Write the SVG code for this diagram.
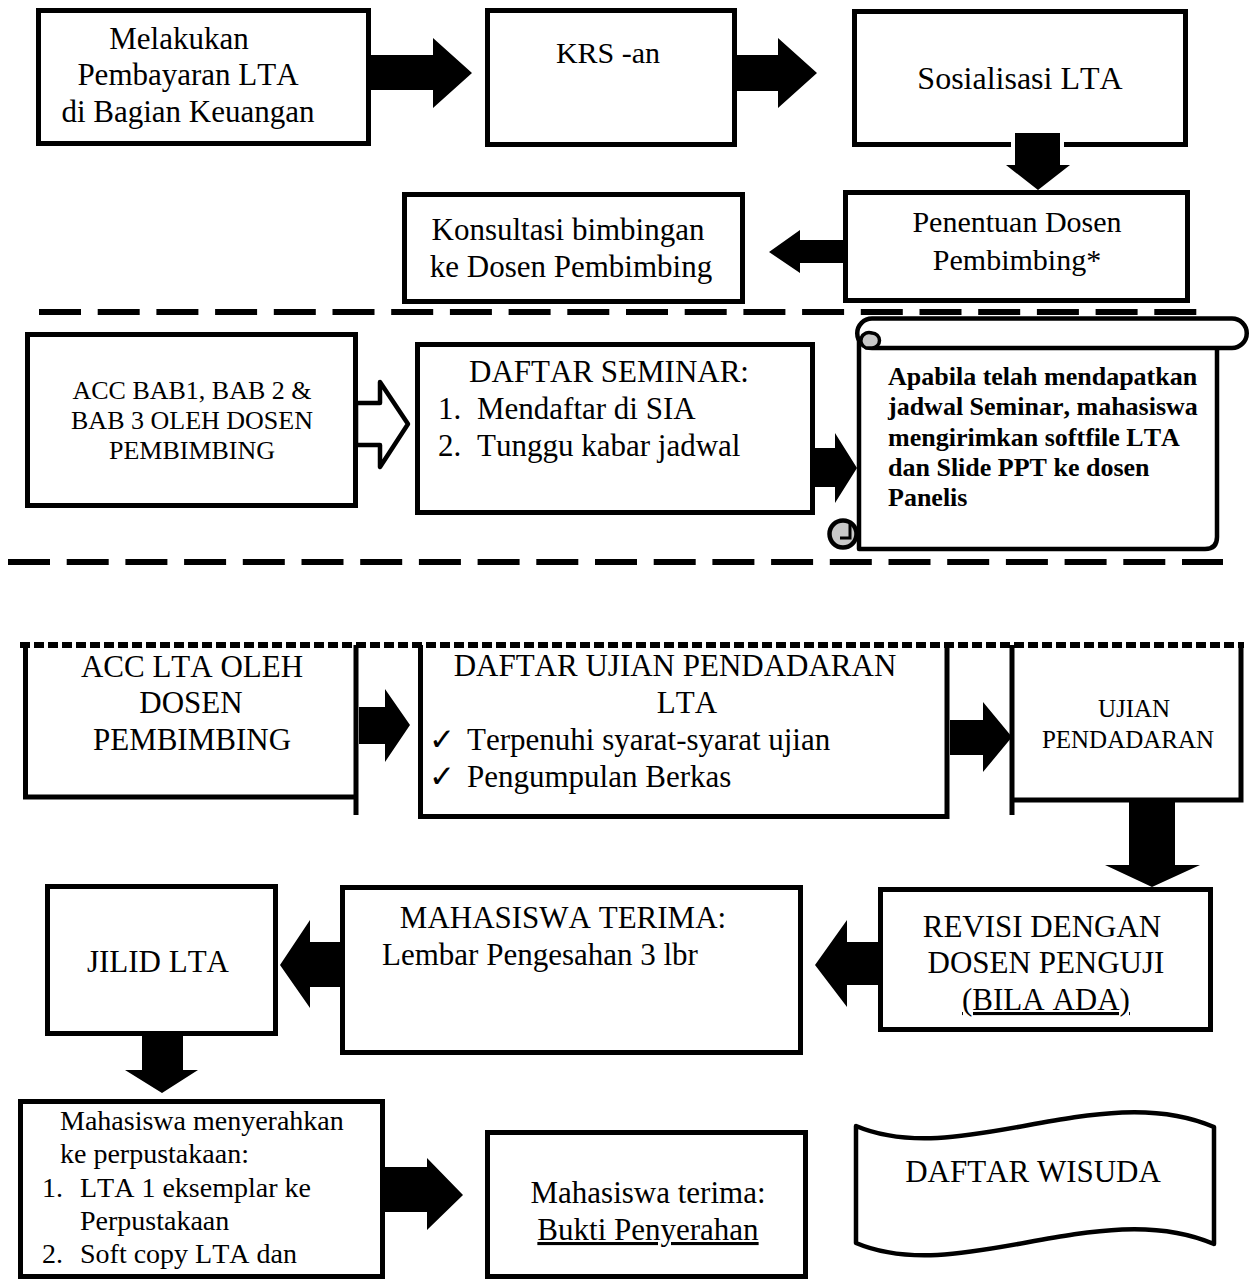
<svg xmlns="http://www.w3.org/2000/svg" width="1251" height="1279" viewBox="0 0 1251 1279">
<style>
.b{fill:#fff;stroke:#000;stroke-width:5}
.ln{fill:none;stroke:#000;stroke-width:5}
.t{font-family:"Liberation Serif","Times New Roman",serif;font-size:31px;fill:#000;font-kerning:none}
.c{text-anchor:middle}
.s26{font-size:26px}
.s28{font-size:28px}
.s30{font-size:30px}
.s32{font-size:32px}
.s25{font-size:25px}
.bold{font-weight:bold}
.ar{fill:#000}
.dl{fill:none;stroke:#000;stroke-width:6;stroke-dasharray:42 16.7}
.ds{fill:none;stroke:#000;stroke-width:6;stroke-dasharray:10 4}
</style>
<rect width="1251" height="1279" fill="#fff"/>

<g id="separators">
<line class="dl" x1="39" y1="312" x2="1197" y2="312"/>
<line class="dl" x1="8" y1="562" x2="1223" y2="562"/>
</g>

<g id="n1">
<rect class="b" x="38.5" y="10.5" width="330" height="133"/>
<text class="t c" x="179" y="49">Melakukan</text>
<text class="t c" x="188" y="85">Pembayaran LTA</text>
<text class="t c" x="188" y="122">di Bagian Keuangan</text>
</g>
<g id="n2">
<rect class="b" x="487.5" y="10.5" width="247" height="134"/>
<text class="t c s30" x="608" y="63">KRS -an</text>
</g>
<g id="n3">
<rect class="b" x="854.5" y="11.5" width="331" height="133"/>
<text class="t c s32" x="1020" y="89">Sosialisasi LTA</text>
</g>
<g id="n4">
<rect class="b" x="845.5" y="192.5" width="342" height="108"/>
<text class="t c s30" x="1017" y="232">Penentuan Dosen</text>
<text class="t c s30" x="1017" y="270">Pembimbing*</text>
</g>
<g id="n5">
<rect class="b" x="404.5" y="194.5" width="338" height="107"/>
<text class="t c" x="568" y="240">Konsultasi bimbingan</text>
<text class="t c" x="571" y="277">ke Dosen Pembimbing</text>
</g>

<g id="n6">
<rect class="b" x="27.5" y="334.5" width="328" height="171"/>
<text class="t c s26" x="192" y="399">ACC BAB1, BAB 2 &amp;</text>
<text class="t c s26" x="192" y="429">BAB 3 OLEH DOSEN</text>
<text class="t c s26" x="192" y="459">PEMBIMBING</text>
</g>
<g id="n7">
<rect class="b" x="417.5" y="344.5" width="395" height="168"/>
<text class="t c" x="609" y="382">DAFTAR SEMINAR:</text>
<text class="t" x="438" y="419">1.</text>
<text class="t" x="477" y="419">Mendaftar di SIA</text>
<text class="t" x="438" y="456">2.</text>
<text class="t" x="477" y="456">Tunggu kabar jadwal</text>
</g>
<g id="n8">
<path fill="#fff" stroke="#000" stroke-width="4.5" stroke-linejoin="round" d="M859 338 V549 H1205 Q1217 549 1217 537 V340"/>
<path fill="#fff" stroke="#000" stroke-width="4.5" d="M872 318.5 H1232 A14.75 14.75 0 0 1 1232 348 H872 A14.75 14.75 0 0 1 872 318.5 Z"/>
<path fill="#c8c8c8" stroke="#000" stroke-width="3.5" d="M872 333 A7.5 7.5 0 0 1 872 348 H866 A8 8 0 0 1 872 333 Z"/>
<circle cx="843" cy="534" r="13.5" fill="#c8c8c8" stroke="#000" stroke-width="4.5"/>
<path fill="none" stroke="#000" stroke-width="3" d="M850 524 V538 H840"/>
<text class="t s26 bold" x="888" y="385">Apabila telah mendapatkan</text>
<text class="t s26 bold" x="888" y="415">jadwal Seminar, mahasiswa</text>
<text class="t s26 bold" x="888" y="446">mengirimkan softfile LTA</text>
<text class="t s26 bold" x="888" y="476">dan Slide PPT ke dosen</text>
<text class="t s26 bold" x="888" y="506">Panelis</text>
</g>

<g id="n9">
<polyline class="ln" points="25.5,645 25.5,797 354,797"/>
<line class="ln" x1="356" y1="645" x2="356" y2="815"/>
<text class="t c" x="192" y="677">ACC LTA OLEH</text>
<text class="t c" x="191" y="713">DOSEN</text>
<text class="t c" x="192" y="750">PEMBIMBING</text>
</g>
<g id="n10">
<polyline class="ln" points="420.5,645 420.5,816.5 947,816.5 947,645"/>
<text class="t c" x="675" y="676">DAFTAR UJIAN PENDADARAN</text>
<text class="t c" x="687" y="713">LTA</text>
<text class="t" x="429" y="750" font-family="DejaVu Sans, sans-serif" font-size="26">✓</text>
<text class="t" x="467" y="750">Terpenuhi syarat-syarat ujian</text>
<text class="t" x="429" y="787" font-family="DejaVu Sans, sans-serif" font-size="26">✓</text>
<text class="t" x="467" y="787">Pengumpulan Berkas</text>
</g>
<g id="n11">
<line class="ln" x1="1012" y1="645" x2="1012" y2="815"/>
<polyline class="ln" points="1012,800 1241,800 1241,645"/>
<text class="t c s25" x="1134" y="717">UJIAN</text>
<text class="t c s25" x="1128" y="748">PENDADARAN</text>
</g>
<line class="ds" x1="20" y1="645" x2="1244" y2="645"/>

<g id="n12">
<rect class="b" x="880.5" y="889.5" width="330" height="140"/>
<text class="t c" x="1042" y="937">REVISI DENGAN</text>
<text class="t c" x="1046" y="973">DOSEN PENGUJI</text>
<text class="t c" x="1046" y="1010" text-decoration="underline">(BILA ADA)</text>
</g>
<g id="n13">
<rect class="b" x="342.5" y="887.5" width="458" height="165"/>
<text class="t c" x="563" y="928">MAHASISWA TERIMA:</text>
<text class="t" x="382" y="965">Lembar Pengesahan 3 lbr</text>
</g>
<g id="n14">
<rect class="b" x="47.5" y="886.5" width="228" height="147"/>
<text class="t c" x="158" y="972">JILID LTA</text>
</g>
<g id="n15">
<rect class="b" x="20.5" y="1101.5" width="362" height="175"/>
<text class="t s28" x="60" y="1130">Mahasiswa menyerahkan</text>
<text class="t s28" x="60" y="1163">ke perpustakaan:</text>
<text class="t s28" x="42" y="1197">1.</text>
<text class="t s28" x="80" y="1197">LTA 1 eksemplar ke</text>
<text class="t s28" x="80" y="1230">Perpustakaan</text>
<text class="t s28" x="42" y="1263">2.</text>
<text class="t s28" x="80" y="1263">Soft copy LTA dan</text>
</g>
<g id="n16">
<rect class="b" x="487.5" y="1132.5" width="318" height="144"/>
<text class="t c" x="648" y="1203">Mahasiswa terima:</text>
<text class="t c" x="648" y="1240" text-decoration="underline">Bukti Penyerahan</text>
</g>
<g id="n17">
<path fill="#fff" stroke="#000" stroke-width="4.5" stroke-linejoin="round" d="M856 1126 C960 1170 1100 1078 1214 1127 V1244 C1100 1195 960 1287 856 1243 Z"/>
<text class="t c" x="1033" y="1182">DAFTAR WISUDA</text>
</g>

<g id="connectors">
<polygon class="ar" points="371,55 433,55 433,38 472,73 433,108 433,90 371,90"/>
<polygon class="ar" points="737,55 778,55 778,38 817,73 778,108 778,91 737,91"/>
<rect x="1011" y="130" width="53" height="17" fill="#fff"/>
<polygon class="ar" points="1015,133 1060,133 1060,165 1070,165 1038,190 1006,165 1015,165"/>
<polygon class="ar" points="843,240 800,240 800,230 769,252 800,273 800,263 843,263"/>
<polygon fill="#fff" stroke="#000" stroke-width="4.5" stroke-linejoin="round" points="356,403 380,403 380,382 408,424 380,467 380,445 356,445"/>
<polygon class="ar" points="815,448 835,448 835,433 857,468 835,503 835,487 815,487"/>
<polygon class="ar" points="359,707 385,707 385,689 410,725 385,762 385,744 359,744"/>
<polygon class="ar" points="950,720 983,720 983,702 1012,737 983,772 983,755 950,755"/>
<polygon class="ar" points="1129,802 1175,802 1175,865 1200,865 1152,887 1105,865 1129,865"/>
<polygon class="ar" points="878,942 847,942 847,920 815,965 847,1007 847,985 878,985"/>
<polygon class="ar" points="340,942 310,942 310,920 280,965 310,1008 310,987 340,987"/>
<polygon class="ar" points="142,1036 183,1036 183,1070 198,1070 162,1093 125,1070 142,1070"/>
<polygon class="ar" points="385,1167 427,1167 427,1158 463,1195 427,1230 427,1212 385,1212"/>
</g>
</svg>
